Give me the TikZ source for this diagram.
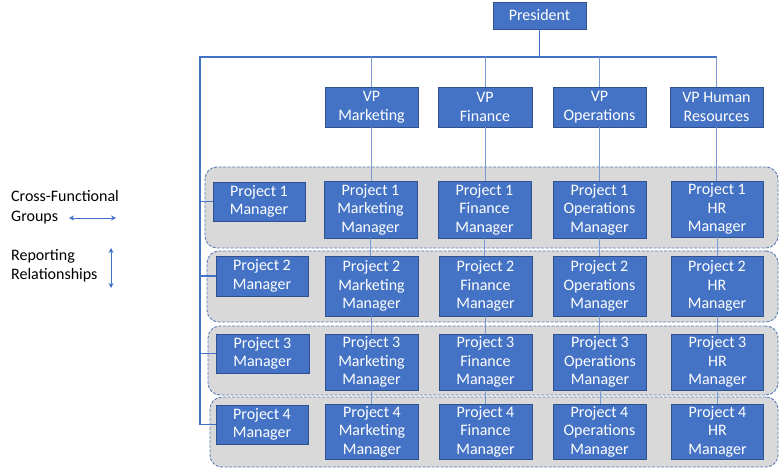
\documentclass[tikz,border=0pt]{standalone}
\usepackage{fontspec}
\setmainfont{Carlito}
\usetikzlibrary{arrows.meta}
\definecolor{boxfill}{HTML}{4472C4}
\definecolor{boxedge}{HTML}{2F528F}
\definecolor{busline}{HTML}{4472C4}
\definecolor{colline}{HTML}{7A98D4}
\definecolor{grpfill}{HTML}{D9D9D9}
\definecolor{grpedge}{HTML}{5B7BB5}
\begin{document}
\begin{tikzpicture}[x=1pt,y=-1pt,
  box/.style={draw=boxedge, line width=0.9pt, fill=boxfill, text=white, align=center,
    inner sep=0pt, font=\fontsize{16}{18.6}\selectfont},
  grp/.style={draw=grpedge, dashed, dash pattern=on 3pt off 1.5pt, line width=0.9pt, fill=grpfill,
    rounded corners=12pt, inner sep=0pt},
  bus/.style={draw=busline, line width=1.6pt},
  col/.style={draw=colline, line width=1pt},
  legtext/.style={anchor=west, align=left, inner sep=0pt, font=\fontsize{16}{19.5}\selectfont},
  legarrow/.style={draw=busline, line width=0.9pt, {Stealth[length=5pt,width=5pt]}-{Stealth[length=5pt,width=5pt]}}
]
\useasboundingbox (0,0) rectangle (781,470);

% groups
\node[grp, minimum width=573, minimum height=81] (g1) at (491.5,207.5) {};
\node[grp, minimum width=571, minimum height=71] (g2) at (492.5,286.5) {};
\node[grp, minimum width=570, minimum height=69] (g3) at (493,360.5) {};
\node[grp, minimum width=568, minimum height=70] (g4) at (494,432) {};

% top
\node[box, minimum width=93, minimum height=27] (pres) at (539.5,15.5) {President};
\node[box, minimum width=93, minimum height=40] (vpm) at (371.5,107) {VP\\Marketing};
\node[box, minimum width=94, minimum height=40] (vpf) at (485,107) {VP\\Finance};
\node[box, minimum width=93, minimum height=40] (vpo) at (599.5,107) {VP\\Operations};
\node[box, minimum width=93, minimum height=40] (vph) at (716.5,107) {VP Human\\Resources};

% project managers
\node[box, minimum width=92, minimum height=39] (pm1) at (259,201.5) {Project 1\\Manager};
\node[box, minimum width=92, minimum height=40] (pm2) at (262,276) {Project 2\\Manager};
\node[box, minimum width=93, minimum height=39] (pm3) at (262.5,353.5) {Project 3\\Manager};
\node[box, minimum width=92, minimum height=39] (pm4) at (262,424.5) {Project 4\\Manager};

% row 1
\node[box, minimum width=93, minimum height=57] (m1) at (370.5,209.5) {Project 1\\Marketing\\Manager};
\node[box, minimum width=93, minimum height=57] (f1) at (484.5,209.5) {Project 1\\Finance\\Manager};
\node[box, minimum width=93, minimum height=57] (o1) at (599.5,209.5) {Project 1\\Operations\\Manager};
\node[box, minimum width=92, minimum height=56] (h1) at (717,209) {Project 1\\HR\\Manager};
% row 2
\node[box, minimum width=93, minimum height=60] (m2) at (371.5,286) {Project 2\\Marketing\\Manager};
\node[box, minimum width=93, minimum height=60] (f2) at (485.5,286) {Project 2\\Finance\\Manager};
\node[box, minimum width=93, minimum height=60] (o2) at (599.5,286) {Project 2\\Operations\\Manager};
\node[box, minimum width=92, minimum height=60] (h2) at (717,286) {Project 2\\HR\\Manager};
% row 3
\node[box, minimum width=93, minimum height=56] (m3) at (371.5,362) {Project 3\\Marketing\\Manager};
\node[box, minimum width=93, minimum height=56] (f3) at (485.5,362) {Project 3\\Finance\\Manager};
\node[box, minimum width=93, minimum height=56] (o3) at (600,362) {Project 3\\Operations\\Manager};
\node[box, minimum width=92, minimum height=56] (h3) at (717.5,362) {Project 3\\HR\\Manager};
% row 4
\node[box, minimum width=93, minimum height=55] (m4) at (372,431.5) {Project 4\\Marketing\\Manager};
\node[box, minimum width=93, minimum height=55] (f4) at (485.5,431.5) {Project 4\\Finance\\Manager};
\node[box, minimum width=93, minimum height=55] (o4) at (599.5,431.5) {Project 4\\Operations\\Manager};
\node[box, minimum width=92, minimum height=55] (h4) at (717.5,431.5) {Project 4\\HR\\Manager};

% bus
\coordinate (busL) at (200,57);
\coordinate (busR) at (716.5,57);
\draw[bus] (pres.south) -- (pres.south |- busL);
\draw[bus] (busR) -- (busL) -- (busL |- pm4.west) -- (pm4.west);
\draw[bus, line width=1.2pt] (pm1.west) -- (pm1.west -| busL);
\draw[bus, line width=1.2pt] (pm2.west) -- (pm2.west -| busL);
\draw[bus, line width=1.2pt] (pm3.west) -- (pm3.west -| busL);

% column lines
\foreach \v/\a/\b/\c/\d in {vpm/m1/m2/m3/m4, vpf/f1/f2/f3/f4, vpo/o1/o2/o3/o4, vph/h1/h2/h3/h4}{
  \draw[col] (\v.north |- busL) -- (\v.north);
  \draw[col] (\v.south) -- (\v.south |- \a.north);
  \draw[col] (\a.south) -- (\a.south |- \b.north);
  \draw[col] (\b.south) -- (\b.south |- \c.north);
  \draw[col] (\c.south) -- (\c.south |- \d.north);
}

% legend
\node[legtext] (lg1) at (11,207) {Cross-Functional\\Groups};
\node[legtext] (lg2) at (11,266) {Reporting\\Relationships};
\coordinate (ga) at (69,218);
\coordinate (gb) at (116,218);
\coordinate (ra) at (111,248);
\coordinate (rb) at (111,288);
\draw[legarrow] (ga) -- (gb);
\draw[legarrow] (ra) -- (rb);
\end{tikzpicture}
\end{document}
